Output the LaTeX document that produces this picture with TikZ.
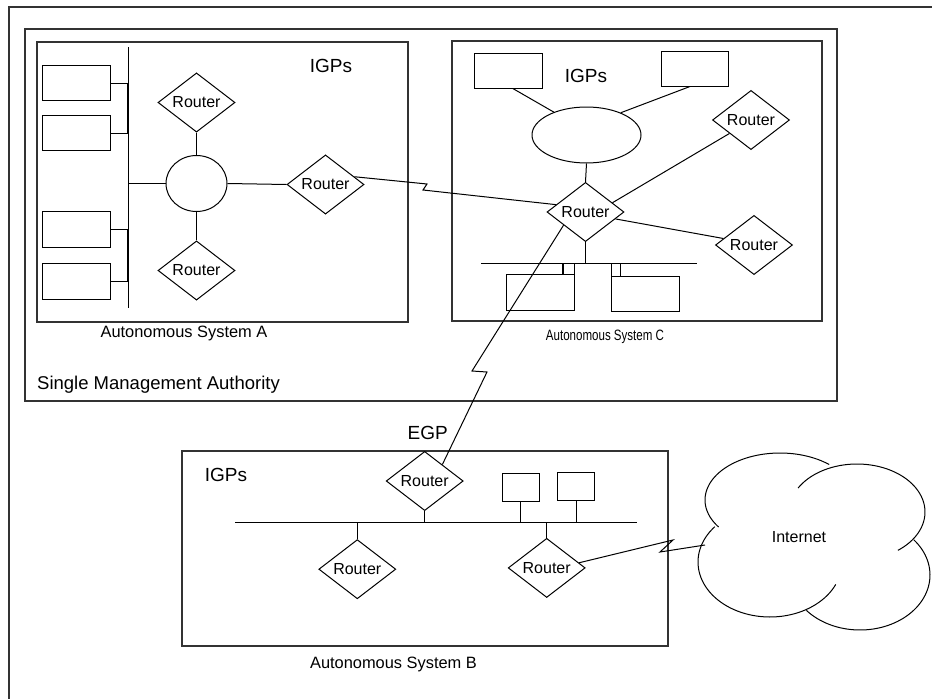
\documentclass[tikz,border=0pt]{standalone}
\usepackage{fontspec}
\usepackage{graphicx}
\setmainfont{Liberation Sans}
\usetikzlibrary{shapes.geometric}
\begin{document}
\begin{tikzpicture}[x=1pt,y=-1pt,
  every path/.style={line width=1pt},
  frame/.style={draw=black!80, line width=1.1pt},
  router/.style={diamond, draw, line width=1pt, minimum width=77pt, minimum height=45pt, inner sep=0pt, font=\fontsize{16}{16}\selectfont},
  host/.style={rectangle, draw, line width=1pt, inner sep=0pt},
  lan/.style={ellipse, draw, line width=1pt, inner sep=0pt},
  igp/.style={inner sep=0pt, font=\fontsize{19}{19}\selectfont},
  aslabel/.style={inner sep=0pt, font=\fontsize{16.4}{16.4}\selectfont},
  thickbus/.style={line width=2.2pt},
]
\useasboundingbox (0,0) rectangle (932,699);

% outer frame and boxes
\draw[frame] (9,699) -- (9,7) -- (932,7);
\draw[frame] (25,29) rectangle (837,401);
\draw[frame] (37,42) rectangle (408,322);
\draw[frame] (452,41) rectangle (822,321);
\draw[frame] (182,451) rectangle (668,646);

\node[anchor=west, inner sep=0pt, font=\fontsize{18.5}{18.5}\selectfont] (sma) at (36.7,385) {Single Management Authority};

% ---------- Autonomous System A ----------
\node[igp] (igpA) at (331,66) {IGPs};
\coordinate (busAt) at (128,47);
\coordinate (busAb) at (128,308);
\draw (busAt) -- (busAb);
\node[host, minimum width=68pt, minimum height=35.5pt] (a1) at (76.7,83) {};
\node[host, minimum width=68pt, minimum height=35.5pt] (a2) at (76.7,133.2) {};
\node[host, minimum width=68pt, minimum height=35.5pt] (a3) at (76.7,229.5) {};
\node[host, minimum width=68pt, minimum height=35.5pt] (a4) at (76.7,281.5) {};
\coordinate (ba1) at (128,83);
\coordinate (ba2) at (128,133.2);
\coordinate (ba3) at (128,229.5);
\coordinate (ba4) at (128,281.5);
\draw (a1.east) -- (ba1);
\draw (a2.east) -- (ba2);
\draw (a3.east) -- (ba3);
\draw (a4.east) -- (ba4);
\draw[thickbus] (ba1) -- (ba2);
\draw[thickbus] (ba3) -- (ba4);
\node[lan, minimum width=61pt, minimum height=56pt] (la) at (196.5,183.5) {};
\coordinate (ba5) at (128,183.5);
\draw (ba5) -- (la.west);
\node[router] (rAt) at (196.5,102.5) {Router};
\node[router] (rAb) at (196.5,270.5) {Router};
\node[router] (rA) at (325.5,184.5) {Router};
\draw (rAt.south) -- (la.north);
\draw (la.south) -- (rAb.north);
\draw (la.east) -- (rA.west);
\node[aslabel] (labA) at (184,333) {Autonomous System A};

% ---------- Autonomous System C ----------
\node[igp] (igpC) at (586,76) {IGPs};
\node[host, minimum width=68pt, minimum height=35pt] (c1) at (508,70.5) {};
\node[host, minimum width=67pt, minimum height=35pt] (c2) at (694.5,68.5) {};
\node[lan, minimum width=109pt, minimum height=56pt] (lc) at (586.5,135) {};
\draw (c1.-75) -- (lc.145);
\draw (c2.-104) -- (lc.33);
\node[router] (rC) at (585.5,212) {Router};
\node[router] (rC1) at (751,120) {Router};
\node[router] (rC2) at (754,245) {Router};
\draw (lc.south) -- (rC.north);
\draw (rC.19) -- (rC1.212);
\draw (rC.-13) -- (rC2.168);
\coordinate (busCl) at (481,263.3);
\coordinate (busCr) at (697,263.3);
\draw (busCl) -- (busCr);
\draw (rC.south) -- (rC.south |- busCl);
\node[host, minimum width=67.6pt, minimum height=36.4pt] (c3) at (540.5,292.5) {};
\node[host, minimum width=68pt, minimum height=35pt] (c4) at (645,293.5) {};
\draw[thickbus] (563.3,263.3) -- (563.3,274.3);
\draw (574,263.3) -- (574,280);
\draw (611.7,263.3) -- (611.7,280.7);
\draw (620.7,263.3) -- (620.7,276);
\node[inner sep=0pt, font=\fontsize{15}{15}\selectfont] (labC) at (605,337) {\scalebox{0.77}[1]{Autonomous System C}};

% ---------- Autonomous System B ----------
\node[igp] (igpB) at (226,475) {IGPs};
\node[igp] (egp) at (427.7,433.3) {EGP};
\node[router] (rBt) at (424.7,481) {Router};
\node[router] (rBl) at (357.3,569.2) {Router};
\node[router] (rBr) at (546.7,567.9) {Router};
\coordinate (busBl) at (235,522.3);
\coordinate (busBr) at (637.3,522.3);
\draw (busBl) -- (busBr);
\node[host, minimum width=37pt, minimum height=28.4pt] (b1) at (520.8,487.5) {};
\node[host, minimum width=36.6pt, minimum height=28pt] (b2) at (576,486) {};
\draw (rBt.south) -- (rBt.south |- busBl);
\draw (b1.south) -- (b1.south |- busBl);
\draw (b2.south) -- (b2.south |- busBl);
\draw (rBl.north |- busBl) -- (rBl.north);
\draw (rBr.north |- busBl) -- (rBr.north);
\node[aslabel] (labB) at (393.5,664) {Autonomous System B};

% ---------- Internet cloud ----------
\draw plot[domain=145:311, samples=60, smooth] ({780+75*cos(\x)},{500+47*sin(\x)});
\draw plot[domain=210:413, samples=60, smooth] ({857+68*cos(\x)},{512+48*sin(\x)});
\draw plot[domain=-40:140, samples=60, smooth] ({860+70*cos(\x)},{575+55*sin(\x)});
\draw plot[domain=24:220, samples=60, smooth] ({770+72*cos(\x)},{562+55*sin(\x)});
\node[inner sep=0pt, font=\fontsize{16}{16}\selectfont] (inettext) at (799,537) {Internet};
\coordinate (inet) at (705,545);

% ---------- serial links ----------
\coordinate (z1) at (427,184);
\coordinate (z2) at (423,190);
\draw (rA.15) -- (z1) -- (z2) -- (rC.166);
\coordinate (z3) at (472,371);
\coordinate (z4) at (487,372);
\draw (rC.211) -- (z3) -- (z4) -- (rBt.43);
\coordinate (z5) at (673,540);
\coordinate (z6) at (660,552);
\draw (rBr.9) -- (z5) -- (z6) -- (inet);
\end{tikzpicture}
\end{document}
